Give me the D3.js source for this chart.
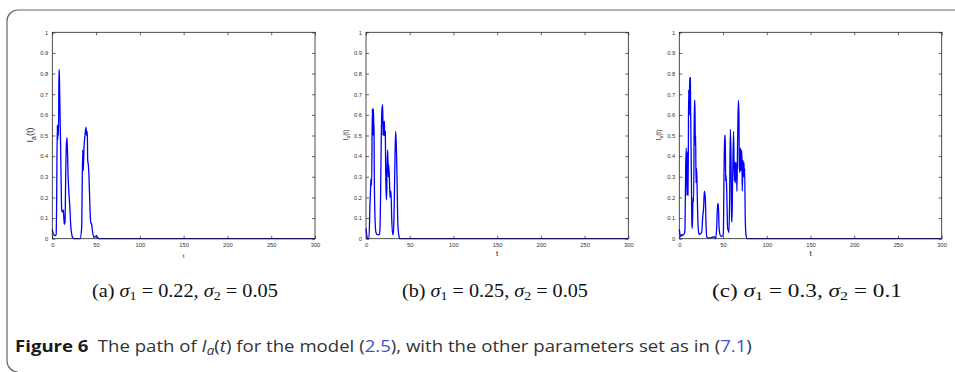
<!DOCTYPE html>
<html><head><meta charset="utf-8">
<script src="https://cdn.jsdelivr.net/npm/d3@7"></script>
<style>body{margin:0;background:#fff}svg{display:block}</style>
</head><body>
<svg id="c" width="955" height="372"></svg>
<script>
// ---- data ----
const tA = [0,1.5,3.1,4.4,5.0,5.7,6.2,6.6,6.9,7.3,7.6,8.0,8.8,9.2,10.0,10.7,11.2,11.8,12.6,13.2,13.7,14.5,15.3,16.0,16.8,17.5,18.1,18.7,19.8,21.3,23.3,25,31.6,33.5,34.7,35.4,36.2,37.3,38.5,39.2,40.0,40.4,41.1,41.9,43.0,43.8,44.9,46.1,47.6,49,50.6,51.8,52.9,300];
const vA = [0.045,0.02,0.015,0.02,0.2,0.55,0.48,0.55,0.5,0.6,0.82,0.8,0.62,0.52,0.3,0.14,0.13,0.13,0.14,0.1,0.07,0.08,0.3,0.45,0.49,0.4,0.3,0.24,0.17,0.05,0.005,0,0,0.05,0.43,0.33,0.44,0.5,0.54,0.5,0.52,0.38,0.36,0.3,0.15,0.08,0.07,0.03,0.005,0.01,0.015,0.005,0,0];
const tB = [0,1.9,3.4,4.6,5.3,5.7,6.5,7.2,8.0,8.4,8.8,9.2,9.5,10.3,11.4,13.0,15.3,16.0,16.8,17.5,18.3,19.1,19.5,19.8,20.6,21.0,21.4,22.1,22.5,23.3,23.6,24.0,24.8,25.6,25.9,26.7,27.5,27.8,28.6,29.4,30.5,31.3,32.0,33.2,33.9,34.7,35.5,36.2,37.4,38.9,300];
const vB = [0.05,0.0,0.0,0.17,0.25,0.29,0.26,0.63,0.5,0.63,0.57,0.52,0.3,0.1,0.03,0.02,0.02,0.05,0.25,0.5,0.63,0.65,0.5,0.57,0.5,0.57,0.5,0.52,0.33,0.2,0.19,0.33,0.43,0.3,0.36,0.3,0.2,0.23,0.23,0.1,0.02,0.02,0.1,0.4,0.52,0.45,0.3,0.1,0.02,0,0];
const tC = [0,1.5,2.7,3.8,4.6,5.8,6.5,7.3,8.0,8.8,9.2,9.9,10.3,10.7,11.5,11.8,12.6,13.0,13.7,14.5,14.9,15.7,16.4,17.2,17.9,18.3,18.7,19.1,19.8,20.2,21.0,22.1,22.9,24.4,25.6,26.7,27.9,28.6,29.7,30.5,31.3,33.2,37.0,39.7,41.6,42.7,43.8,44.6,45.4,46.5,48.4,50.3,51.1,51.8,52.6,53.0,53.4,54.1,55.3,56.0,56.8,57.6,58.3,59.1,59.8,60.2,61.0,62.1,62.9,63.7,64.0,64.8,65.6,65.9,66.7,67.5,68.2,68.6,69.4,69.8,70.5,71.3,71.7,72.0,72.8,73.6,73.9,74.3,74.7,75.4,76.2,77.7,300];
const vC = [0.045,0.01,0.02,0.015,0.02,0.025,0.05,0.35,0.44,0.21,0.42,0.21,0.4,0.72,0.6,0.78,0.78,0.6,0.35,0.06,0.05,0.2,0.18,0.67,0.67,0.45,0.5,0.27,0.34,0.28,0.12,0.03,0.02,0.025,0.03,0.1,0.16,0.23,0.2,0.08,0.01,0.003,0.005,0.01,0,0.05,0.17,0.17,0.06,0.02,0.01,0.02,0.3,0.5,0.5,0.28,0.31,0.25,0.05,0.04,0.03,0.2,0.53,0.4,0.1,0.08,0.3,0.52,0.28,0.37,0.27,0.37,0.3,0.23,0.48,0.67,0.6,0.35,0.32,0.44,0.33,0.43,0.36,0.23,0.38,0.3,0.37,0.3,0.34,0.1,0.02,0,0];
const xTicks = [0,50,100,150,200,250,300];
const yTicks = [0,0.1,0.2,0.3,0.4,0.5,0.6,0.7,0.8,0.9,1];
const subLabels = ["a","b","c"];
const sigma1 = ["0.22","0.25","0.3"];
const sigma2 = ["0.05","0.05","0.1"];

// ---- layout ----
const svg = d3.select("#c");
svg.append("path")
  .attr("d","M955,10 H18 A11,11 0 0 0 7,21 V361 A11,11 0 0 0 18,372")
  .attr("fill","none").attr("stroke","#666").attr("stroke-width",1.2);

const panels = [
  {t:tA, v:vA, x0:52.3, x1:315, ylx:33, yls:9, xls:6, xly:258},
  {t:tB, v:vB, x0:366, x1:628.3, ylx:348, yls:6.5, xls:8, xly:256},
  {t:tC, v:vC, x0:679.3, x1:941.7, ylx:661, yls:6.5, xls:8, xly:256}
];
const yTop = 32.3, yBot = 238.7;

panels.forEach((p,i)=>{
  const x = d3.scaleLinear().domain([0,300]).range([p.x0,p.x1]);
  const y = d3.scaleLinear().domain([0,1]).range([yBot,yTop]);
  const g = svg.append("g");
  const fmt = d => d===0?"0":(d===1?"1":d3.format(".1f")(d));
  const axStyle = sel => {
    sel.select(".domain").remove();
    sel.selectAll("line").attr("stroke","#222").attr("stroke-width",0.7);
    sel.selectAll("text").attr("font-family","Liberation Sans, Arial, sans-serif").attr("font-size",5.8).attr("fill","#333");
  };
  g.append("g").attr("transform",`translate(0,${yBot})`)
    .call(d3.axisBottom(x).tickValues(xTicks).tickSize(-3).tickPadding(4).tickFormat(d3.format("d"))).call(axStyle);
  g.append("g").attr("transform",`translate(0,${yTop})`)
    .call(d3.axisTop(x).tickValues(xTicks).tickSize(-3).tickFormat("")).call(axStyle);
  g.append("g").attr("transform",`translate(${p.x0},0)`)
    .call(d3.axisLeft(y).tickValues(yTicks).tickSize(-3).tickPadding(4).tickFormat(fmt)).call(axStyle);
  g.append("g").attr("transform",`translate(${p.x1},0)`)
    .call(d3.axisRight(y).tickValues(yTicks).tickSize(-3).tickFormat("")).call(axStyle);

  const line = d3.line().x((d,j)=>x(p.t[j])).y((d,j)=>y(p.v[j])).curve(d3.curveMonotoneX);
  g.append("path").datum(p.v).attr("d",line)
    .attr("fill","none").attr("stroke","#0000ff").attr("stroke-width",1.3).attr("stroke-linejoin","round");

  g.append("rect").attr("x",p.x0).attr("y",yTop).attr("width",p.x1-p.x0).attr("height",yBot-yTop)
    .attr("fill","none").attr("stroke","#222").attr("stroke-width",0.8);

  // y label I_a(t)
  const yl = g.append("text").attr("transform",`translate(${p.ylx},135) rotate(-90)`)
    .attr("text-anchor","middle").attr("font-family","Liberation Sans, Arial, sans-serif")
    .attr("font-size",p.yls).attr("fill","#222");
  yl.append("tspan").text("I");
  yl.append("tspan").attr("font-size",p.yls*0.75).attr("dy",p.yls*0.3).text("a");
  yl.append("tspan").attr("dy",-p.yls*0.3).text("(t)");
  // x label
  g.append("text").attr("x",(p.x0+p.x1)/2).attr("y",p.xly).attr("text-anchor","middle")
    .attr("font-family","Liberation Sans, Arial, sans-serif").attr("font-size",p.xls).attr("fill","#222").text("t");

  // sub caption
  const cx = [185,495,807][i];
  const st = svg.append("text").attr("x",0).attr("y",0)
    .attr("font-family","Liberation Serif, DejaVu Serif, serif").attr("font-size",18).attr("fill","#111");
  st.append("tspan").text(`(${subLabels[i]}) `);
  st.append("tspan").attr("font-style","italic").text("σ");
  st.append("tspan").attr("font-size",12.5).attr("dy",3).text("1");
  st.append("tspan").attr("dy",-3).text(` = ${sigma1[i]}, `);
  st.append("tspan").attr("font-style","italic").text("σ");
  st.append("tspan").attr("font-size",12.5).attr("dy",3).text("2");
  st.append("tspan").attr("dy",-3).text(` = ${sigma2[i]}`);
  const w = st.node().getComputedTextLength();
  const target = i===2 ? 190 : 186;
  const s = target / w;
  st.attr("transform",`translate(${cx - target/2},297) scale(${s},1)`);
});

// figure caption
const cap = svg.append("text").attr("font-family","Open Sans, Noto Sans, sans-serif").attr("font-size",16.5).attr("fill","#333");
cap.append("tspan").attr("font-weight","bold").attr("fill","#1a1a1a").text("Figure 6");
cap.append("tspan").text("\u2002The path of ");
cap.append("tspan").attr("font-style","italic").text("I");
cap.append("tspan").attr("font-style","italic").attr("font-size",12).attr("dy",3).text("a");
cap.append("tspan").attr("dy",-3).text("(");
cap.append("tspan").attr("font-style","italic").text("t");
cap.append("tspan").text(") for the model (");
cap.append("tspan").attr("fill","#3b55c4").text("2.5");
cap.append("tspan").text("), with the other parameters set as in (");
cap.append("tspan").attr("fill","#3b55c4").text("7.1");
cap.append("tspan").text(")");
const cw = cap.node().getComputedTextLength();
cap.attr("transform",`translate(15,352) scale(${737/cw},1)`);
</script>
</body></html>
